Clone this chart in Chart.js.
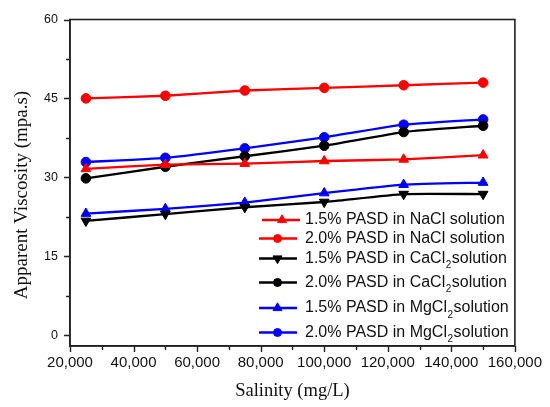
<!DOCTYPE html>
<html>
<head>
<meta charset="utf-8">
<script src="https://cdn.jsdelivr.net/npm/chart.js@4.4.1/dist/chart.umd.min.js"></script>
<style>
  html, body { margin: 0; padding: 0; background: #ffffff; }
  #wrap { width: 550px; height: 407px; position: relative; }
</style>
</head>
<body>
<div id="wrap"><canvas id="c"></canvas></div>
<script>
// ---- data ----
const salinity = [25000, 50000, 75000, 100000, 125000, 150000];
const nacl15  = [31.6, 32.4, 32.6, 33.1, 33.4, 34.2];
const nacl20  = [45.0, 45.5, 46.5, 47.0, 47.5, 48.0];
const cacl15  = [21.7, 23.0, 24.3, 25.3, 26.8, 26.8];
const cacl20  = [29.8, 32.0, 34.0, 36.0, 38.6, 39.8];
const mgcl15  = [23.1, 24.0, 25.2, 27.0, 28.6, 29.0];
const mgcl20  = [32.9, 33.7, 35.5, 37.6, 40.0, 41.0];
const yTickValues = [0, 7.5, 15, 22.5, 30, 37.5, 45, 52.5, 60];
const xTickValues = [20000, 30000, 40000, 50000, 60000, 70000, 80000, 90000, 100000, 110000, 120000, 130000, 140000, 150000, 160000];
const legendLabels = [
  ["1.5% PASD in NaCl solution"],
  ["2.0% PASD in NaCl solution"],
  ["1.5% PASD in CaCl", "2", "solution"],
  ["2.0% PASD in CaCl", "2", "solution"],
  ["1.5% PASD in MgCl", "2", "solution"],
  ["2.0% PASD in MgCl", "2", "solution"]
];
const xTitle = "Salinity (mg/L)";
const yTitle = "Apparent Viscosity (mpa.s)";

const RED = "#ff0000", BLACK = "#000000", BLUE = "#0000ff";
function pts(arr) { return salinity.map((x, i) => ({ x: x, y: arr[i] })); }
function ds(label, arr, color, style, rot, r) {
  return {
    label: label, data: pts(arr),
    borderColor: color, backgroundColor: color,
    pointBackgroundColor: color, pointBorderColor: color,
    borderWidth: 2.3, pointStyle: style, pointRotation: rot,
    pointRadius: r, pointHoverRadius: r, pointBorderWidth: 1,
    tension: 0.15, fill: false
  };
}
const datasets = [
  ds(legendLabels[0].join(""), nacl15, RED, "triangle", 0, 5.6),
  ds(legendLabels[1].join(""), nacl20, RED, "circle", 0, 4.8),
  ds(legendLabels[2].join(""), cacl15, BLACK, "triangle", 180, 5.6),
  ds(legendLabels[3].join(""), cacl20, BLACK, "circle", 0, 4.8),
  ds(legendLabels[4].join(""), mgcl15, BLUE, "triangle", 0, 5.6),
  ds(legendLabels[5].join(""), mgcl20, BLUE, "circle", 0, 4.8)
];

const decor = {
  id: "decor",
  afterDraw(chart) {
    const ctx = chart.ctx, a = chart.chartArea;
    const xs = chart.scales.x, ys = chart.scales.y;
    ctx.save();
    // frame
    ctx.strokeStyle = "#222222"; ctx.lineWidth = 1.6;
    ctx.strokeRect(a.left, a.top, a.right - a.left, a.bottom - a.top);
    // ticks
    ctx.lineWidth = 1.4;
    ctx.beginPath();
    yTickValues.forEach(v => {
      const y = Math.round(ys.getPixelForValue(v)) + 0.5;
      const len = (v % 15 === 0) ? 6 : 4;
      ctx.moveTo(a.left, y); ctx.lineTo(a.left - len, y);
    });
    xTickValues.forEach(v => {
      const x = Math.round(xs.getPixelForValue(v)) + 0.5;
      const len = (v % 20000 === 0) ? 6 : 4;
      ctx.moveTo(x, a.bottom); ctx.lineTo(x, a.bottom + len);
    });
    ctx.stroke();
    // axis titles
    ctx.fillStyle = "#111111";
    ctx.font = "18.5px 'Liberation Serif', 'Times New Roman', serif";
    ctx.textAlign = "center"; ctx.textBaseline = "alphabetic";
    ctx.fillText(xTitle, (a.left + a.right) / 2, 396);
    ctx.save();
    ctx.translate(27, 195); ctx.rotate(-Math.PI / 2);
    ctx.font = "19px 'Liberation Serif', 'Times New Roman', serif";
    ctx.fillText(yTitle, 0, 0);
    ctx.restore();
    // legend
    const rowsY = [220, 238.5, 258.5, 282.5, 308, 332.5];
    chart.data.datasets.forEach((d, i) => {
      const y = rowsY[i];
      const x0 = i === 0 ? 262 : 259, x1 = i === 0 ? 300 : 297;
      const mx = i === 0 ? 282 : 277.5;
      ctx.strokeStyle = d.borderColor; ctx.fillStyle = d.borderColor;
      ctx.lineWidth = 2.3;
      ctx.beginPath(); ctx.moveTo(x0, y); ctx.lineTo(x1, y); ctx.stroke();
      ctx.lineWidth = 1;
      Chart.helpers.drawPoint(ctx, {
        pointStyle: d.pointStyle, rotation: d.pointRotation,
        radius: d.pointStyle === "circle" ? 4 : 5.2, borderWidth: 1
      }, mx, y);
      ctx.fillStyle = "#111111";
      ctx.textAlign = "left"; ctx.textBaseline = "middle";
      ctx.font = "16px 'Liberation Sans', Arial, sans-serif";
      const parts = legendLabels[i];
      let tx = 305;
      ctx.fillText(parts[0], tx, y);
      if (parts.length > 1) {
        tx += ctx.measureText(parts[0]).width + 0.5;
        ctx.font = "10px 'Liberation Sans', Arial, sans-serif";
        ctx.fillText(parts[1], tx, y + 7);
        tx += ctx.measureText(parts[1]).width + 0.5;
        ctx.font = "16px 'Liberation Sans', Arial, sans-serif";
        ctx.fillText(parts[2], tx, y);
      }
    });
    ctx.restore();
  }
};

new Chart(document.getElementById("c"), {
  type: "line",
  data: { datasets: datasets },
  options: {
    responsive: true, maintainAspectRatio: false, animation: false,
    devicePixelRatio: 1,
    layout: { padding: { top: 18, right: 35, left: 0, bottom: 0 } },
    plugins: { legend: { display: false }, tooltip: { enabled: false } },
    scales: {
      x: {
        type: "linear", min: 20000, max: 160000,
        afterFit: s => { s.height = 61; },
        afterBuildTicks: s => { s.ticks = xTickValues.map(v => ({ value: v })); },
        grid: { display: false, drawTicks: false },
        border: { display: true, color: "#222222", width: 1.6 },
        ticks: {
          padding: 8, color: "#111111", autoSkip: false, maxRotation: 0,
          font: { family: "'Liberation Sans', Arial, sans-serif", size: 15 },
          callback: v => (v % 20000 === 0) ? v.toLocaleString("en-US") : ""
        }
      },
      y: {
        type: "linear", min: -2.08, max: 60,
        afterFit: s => { s.width = 70; },
        afterBuildTicks: s => { s.ticks = yTickValues.map(v => ({ value: v })); },
        grid: { display: false, drawTicks: false },
        border: { display: true, color: "#222222", width: 1.6 },
        ticks: {
          padding: 12, color: "#111111",
          font: { family: "'Liberation Sans', Arial, sans-serif", size: 12.5 },
          callback: v => (v % 15 === 0) ? String(v) : ""
        }
      }
    }
  },
  plugins: [decor]
});
</script>
</body>
</html>
